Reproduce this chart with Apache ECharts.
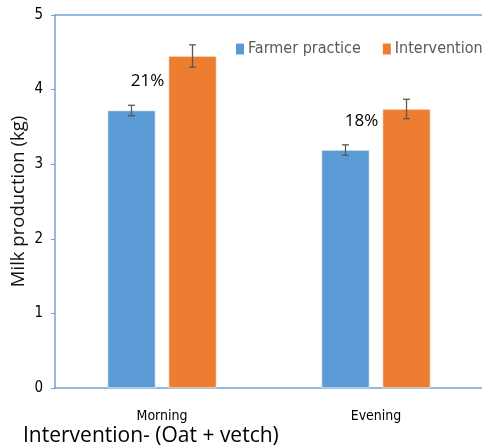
<!DOCTYPE html>
<html>
<head>
<meta charset="utf-8">
<script src="https://cdn.jsdelivr.net/npm/echarts@6/dist/echarts.min.js"></script>
<style>
  html, body { margin: 0; padding: 0; background: #fff; }
  #chart { width: 482px; height: 447px; }
</style>
</head>
<body>
<div id="chart"></div>
<script>
  // data
  var categories = ['Morning', 'Evening'];
  var seriesNames = ['Farmer practice', 'Intervention'];
  var farmer = [3.72, 3.19];
  var farmerErr = [0.07, 0.07];
  var intervention = [4.45, 3.74];
  var interventionErr = [0.15, 0.13];
  var increaseLabels = ['21%', '18%'];
  var yTicks = [0, 1, 2, 3, 4, 5];

  var narrow = "'Liberation Sans Narrow', 'DejaVu Sans Condensed', sans-serif";
  var blue = '#5B9BD5';
  var orange = '#ED7D31';
  var axisBlue = '#6FA3D8';

  var barW = 48;
  var barGapPx = 13;
  var half = (barW + barGapPx) / 2;

  function errorData(vals, errs) {
    return vals.map(function (v, i) { return [i, v, errs[i]]; });
  }

  function errorBar(offset) {
    return function (params, api) {
      var c = api.coord([api.value(0), api.value(1) + api.value(2)]);
      var d = api.coord([api.value(0), api.value(1) - api.value(2)]);
      var x = c[0] + offset;
      var st = { stroke: '#595959', lineWidth: 1.3 };
      return {
        type: 'group',
        children: [
          { type: 'line', shape: { x1: x, y1: c[1], x2: x, y2: d[1] }, style: st },
          { type: 'line', shape: { x1: x - 3.5, y1: c[1], x2: x + 3.5, y2: c[1] }, style: st },
          { type: 'line', shape: { x1: x - 3.5, y1: d[1], x2: x + 3.5, y2: d[1] }, style: st }
        ]
      };
    };
  }

  var chart = echarts.init(document.getElementById('chart'));
  chart.setOption({
    animation: false,
    title: {
      text: 'Intervention- (Oat + vetch)',
      left: 18,
      top: 421,
      textStyle: { fontFamily: "'Open Sans', sans-serif", fontSize: 21, fontWeight: 'normal', color: '#000' }
    },
    legend: {
      data: seriesNames,
      left: 229,
      top: 36,
      width: 320,
      itemWidth: 10,
      itemHeight: 13,
      itemGap: 20,
      icon: 'rect',
      textStyle: { fontFamily: narrow, fontSize: 16, color: '#595959', padding: [0, 0, 0, -2] }
    },
    grid: { left: 55, right: -1, top: 15, bottom: 59, outerBoundsMode: 'none' },
    xAxis: [
      {
        type: 'category',
        data: categories,
        axisLine: { lineStyle: { color: axisBlue, width: 1.5 } },
        axisTick: { show: false },
        axisLabel: { fontFamily: narrow, fontSize: 14, color: '#000', margin: 21 }
      },
      {
        type: 'category',
        data: categories,
        position: 'top',
        axisLine: { lineStyle: { color: axisBlue, width: 1.5 } },
        axisTick: { show: false },
        axisLabel: { show: false }
      }
    ],
    yAxis: {
      type: 'value',
      min: yTicks[0],
      max: yTicks[yTicks.length - 1],
      interval: 1,
      name: 'Milk production (kg)',
      nameLocation: 'middle',
      nameGap: 27,
      nameMoveOverlap: false,
      nameTextStyle: { fontFamily: "'Open Sans', sans-serif", fontSize: 18.5, color: '#111' },
      axisLine: { show: true, lineStyle: { color: axisBlue, width: 1.5 } },
      axisTick: { show: true, length: 4, lineStyle: { color: axisBlue } },
      splitLine: { show: false },
      axisLabel: { fontFamily: narrow, fontSize: 15, color: '#000', margin: 12 }
    },
    series: [
      {
        name: seriesNames[0],
        type: 'bar',
        data: farmer,
        barWidth: barW,
        barGap: (barGapPx / barW * 100) + '%',
        itemStyle: { color: blue, borderColor: '#fff', borderWidth: 0.6 }
      },
      {
        name: seriesNames[1],
        type: 'bar',
        data: intervention,
        barWidth: barW,
        itemStyle: { color: orange, borderColor: '#fff', borderWidth: 0.6 }
      },
      {
        type: 'custom',
        data: errorData(farmer, farmerErr),
        renderItem: errorBar(-half),
        z: 5
      },
      {
        type: 'custom',
        data: errorData(intervention, interventionErr),
        renderItem: errorBar(half),
        z: 5
      },
      {
        type: 'custom',
        data: farmer.map(function (v, i) { return [i, v, increaseLabels[i]]; }),
        renderItem: function (params, api) {
          var p = api.coord([api.value(0), api.value(1)]);
          return {
            type: 'text',
            x: p[0] - half + 16,
            y: p[1] - 29,
            style: {
              text: increaseLabels[params.dataIndex],
              fontFamily: "'Open Sans', sans-serif",
              fontSize: 17,
              fill: '#000',
              align: 'center',
              verticalAlign: 'middle'
            }
          };
        },
        z: 6
      }
    ]
  });
</script>
</body>
</html>
